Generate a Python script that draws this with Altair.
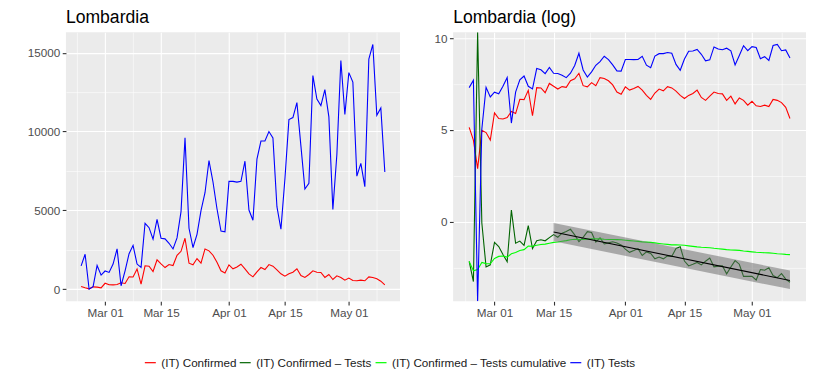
import altair as alt
import numpy as np
import pandas as pd

# ---------------- data ----------------
START = "2020-02-24"

confirmed = [170, 85, 18, 145, 128, 85, 372, 275, 268, 290,
             405, 360, 785, 770, 1280, 320, 1480, 1455, 1120, 1860,
             1600, 1370, 1560, 1500, 2150, 2400, 3230, 1645, 1540, 1940,
             1645, 2550, 2430, 2150, 1710, 1160, 1030, 1540, 1290, 1410,
             1580, 1290, 970, 780, 1100, 1370, 1245, 1560, 1455, 1225,
             970, 820, 970, 1075, 1290, 865, 740, 930, 1160, 1075,
             1055, 740, 930, 610, 845, 740, 570, 700, 550, 530,
             570, 530, 780, 740, 655, 505, 275]

tests = [1480, 2215, 0, 155, 1500, 890, 1150, 1060, 1590, 2560,
         215, 1160, 2250, 2780, 1590, 1380, 4180, 3900, 3165, 4430,
         3230, 3190, 2910, 2550, 3250, 4920, 9600, 3860, 2640, 3480,
         4980, 6120, 8160, 6800, 5100, 3680, 3640, 6840, 6840, 6790,
         6840, 8120, 5020, 4370, 8250, 9400, 9400, 10000, 9600, 5230,
         3800, 7000, 10760, 10890, 11840, 9090, 6350, 6710, 13550, 12065,
         11650, 12660, 10930, 5060, 8540, 14510, 11080, 13740, 13140, 7170,
         7980, 6500, 14600, 15530, 11030, 11500, 7430]

# linear fit of log(Confirmed/Tests) from Mar 15 on, with its band
fit_dates = ["2020-03-15", "2020-05-10"]
fit_center = [-0.56, -3.20]
fit_lower = [-1.07, -3.67]
fit_upper = [-0.07, -2.66]

SERIES = ["(IT) Confirmed", "(IT) Confirmed \u2013 Tests",
          "(IT) Confirmed \u2013 Tests cumulative", "(IT) Tests"]
COLORS = ["#FF0000", "#006400", "#00FF00", "#0000FF"]

MAJOR_DATES = [(2020, 3, 1), (2020, 3, 15), (2020, 4, 1), (2020, 4, 15), (2020, 5, 1)]
MINOR_DATES = [(2020, 2, 23, 0), (2020, 3, 8, 0), (2020, 3, 23, 12),
               (2020, 4, 8, 0), (2020, 4, 23, 0), (2020, 5, 8, 0)]
LIN_TICKS = [0, 2500, 5000, 7500, 10000, 12500, 15000]
LOG_TICKS = [-2.5, 0, 2.5, 5, 7.5, 10]

# ---------------- derived tables ----------------
FONT = "Liberation Sans"
dates = pd.date_range(START, periods=len(confirmed), freq="D")
n = len(dates)
conf = np.array(confirmed, dtype=float)
tst = np.array(tests, dtype=float)

with np.errstate(divide="ignore", invalid="ignore"):
    log_conf = np.log(conf)
    log_tests = np.log(tst)
    log_ratio = np.log(conf / tst)
    log_cum = np.log(np.cumsum(conf) / np.cumsum(tst))


def expand(lo, hi):
    pad = 0.05 * (hi - lo)
    return [float(lo - pad), float(hi + pad)]


lin_dom = expand(min(conf.min(), tst.min()), max(conf.max(), tst.max()))
allv = np.concatenate([log_conf, log_tests, log_ratio, log_cum, fit_lower, fit_upper])
allv = allv[np.isfinite(allv)]
log_dom = expand(allv.min(), allv.max())

span = dates[-1] - dates[0]
x_lo = dates[0] - 0.05 * span
x_hi = dates[-1] + 0.05 * span


def dt(ts):
    return alt.DateTime(year=ts.year, month=ts.month, date=ts.day,
                        hours=ts.hour, minutes=ts.minute)


x_domain = [dt(x_lo), dt(x_hi)]

left_df = pd.DataFrame({
    "date": list(dates) * 2,
    "series": [SERIES[0]] * n + [SERIES[3]] * n,
    "value": np.concatenate([conf, tst]),
})

clip = lambda a: np.clip(a, log_dom[0], log_dom[1])
right_df = pd.DataFrame({
    "date": list(dates) * 4,
    "series": [SERIES[0]] * n + [SERIES[1]] * n + [SERIES[2]] * n + [SERIES[3]] * n,
    "value": np.concatenate([clip(log_conf), clip(log_ratio), clip(log_cum), clip(log_tests)]),
})

fit_df = pd.DataFrame({
    "date": pd.to_datetime(fit_dates),
    "center": fit_center,
    "lower": fit_lower,
    "upper": fit_upper,
})

# ---------------- axes ----------------
is_major_date = "(date(datum.value) == 1 || date(datum.value) == 15)"

x_values = [alt.DateTime(year=y, month=m, date=d) for (y, m, d) in MAJOR_DATES] + \
           [alt.DateTime(year=y, month=m, date=d, hours=h) for (y, m, d, h) in MINOR_DATES]

axis_common = dict(
    domain=False, gridColor="white", labelColor="#4D4D4D", labelFont=FONT,
    labelFontSize=11.7, tickColor="#333333", tickSize=3.7, tickWidth=1.1,
    labelPadding=2.5, title=None,
)


def x_axis():
    return alt.Axis(
        values=x_values,
        labelExpr=f"{is_major_date} ? timeFormat(datum.value, '%b %d') : ''",
        gridWidth={"condition": {"test": is_major_date, "value": 1.1}, "value": 0.55},
        tickOpacity={"condition": {"test": is_major_date, "value": 1}, "value": 0},
        **axis_common,
    )


def y_axis(values, step, extent):
    test = f"datum.value % {step} == 0"
    return alt.Axis(
        values=values,
        labelExpr=f"{test} ? format(datum.value, 'd') : ''",
        gridWidth={"condition": {"test": test, "value": 1.1}, "value": 0.55},
        tickOpacity={"condition": {"test": test, "value": 1}, "value": 0},
        minExtent=extent,
        **axis_common,
    )


color = alt.Color(
    "series:N",
    scale=alt.Scale(domain=SERIES, range=COLORS),
    legend=alt.Legend(
        title=None, orient="none", legendX=78, legendY=324, direction="horizontal",
        columns=4, symbolType="stroke", symbolSize=121, symbolStrokeWidth=1.2,
        labelFont=FONT, labelFontSize=11.7, labelColor="#1A1A1A", labelOffset=4.5,
        labelLimit=0, columnPadding=0, padding=0,
    ),
)


def title(txt):
    return alt.TitleParams(txt, anchor="start", frame="group", fontSize=17.6, font=FONT,
                           fontWeight="normal", color="black", offset=6)


x_scale = alt.Scale(domain=x_domain, nice=False)
lin_scale = alt.Scale(domain=lin_dom, nice=False, zero=False)
log_scale = alt.Scale(domain=log_dom, nice=False, zero=False)

left = alt.Chart(left_df).mark_line(strokeWidth=1.1, clip=True).encode(
    x=alt.X("date:T", scale=x_scale, axis=x_axis()),
    y=alt.Y("value:Q", scale=lin_scale, axis=y_axis(LIN_TICKS, 5000, 57.5)),
    color=color,
).properties(width=334.5, height=269.5, title=title("Lombardia"))

right_lines = alt.Chart(right_df).mark_line(strokeWidth=1.1, clip=True).encode(
    x=alt.X("date:T", scale=x_scale, axis=x_axis()),
    y=alt.Y("value:Q", scale=log_scale, axis=y_axis(LOG_TICKS, 5, 25)),
    color=color,
)

band = alt.Chart(fit_df).mark_area(color="#666666", opacity=0.5).encode(
    x=alt.X("date:T", scale=x_scale, axis=x_axis()),
    y=alt.Y("lower:Q", scale=log_scale, axis=y_axis(LOG_TICKS, 5, 25)),
    y2="upper:Q",
)
fit_line = alt.Chart(fit_df).mark_line(color="black", strokeWidth=1.1).encode(
    x=alt.X("date:T", scale=x_scale, axis=x_axis()),
    y=alt.Y("center:Q", scale=log_scale, axis=y_axis(LOG_TICKS, 5, 25)),
)

right = alt.layer(right_lines, band, fit_line).properties(
    width=353.3, height=269.5, title=title("Lombardia (log)"))

chart = alt.hconcat(left, right, spacing=27.7).properties(
    padding={"left": 0, "top": 0, "right": 0, "bottom": 0}
).configure_view(fill="#EBEBEB", stroke="transparent", strokeWidth=0)

chart.save("out.html", embed_options={"renderer": "svg", "actions": False})
